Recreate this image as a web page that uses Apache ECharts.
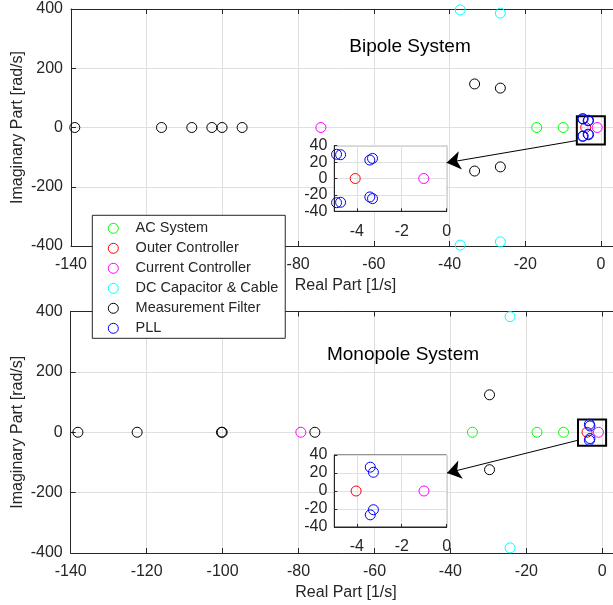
<!DOCTYPE html>
<html>
<head>
<meta charset="utf-8">
<script src="https://cdn.jsdelivr.net/npm/echarts@6/dist/echarts.min.js"></script>
<style>
  html, body { margin: 0; padding: 0; background: #fff; }
  #chart { width: 613px; height: 605px; }
</style>
</head>
<body>
<div id="chart"></div>
<script>
// Eigenvalues [real 1/s, imag rad/s], grouped by the subsystem they belong to.
const groupNames = ['AC System', 'Outer Controller', 'Current Controller',
                    'DC Capacitor & Cable', 'Measurement Filter', 'PLL'];

// Bipole system
const bipoleAC      = [[-17.0, 0], [-10.0, 0]];
const bipoleOuter   = [[-4.07, 0]];
const bipoleCurrent = [[-74.0, 0], [-1.02, 0]];
const bipoleDC      = [[-37.2, 397], [-37.2, -397], [-26.6, 386], [-26.6, -386]];
const bipoleFilter  = [[-139.0, 0], [-116.1, 0], [-108.1, 0], [-102.8, 0], [-100.1, 0], [-94.8, 0],
                       [-33.4, 147], [-33.4, -147], [-26.6, 133], [-26.6, -133]];
const bipolePLL     = [[-4.9, 29.5], [-4.9, -29.5], [-4.72, 29], [-4.72, -29],
                       [-3.42, 22.5], [-3.42, -22.5], [-3.3, 24.5], [-3.3, -24.5]];

// Monopole system
const monoAC      = [[-34.2, 0], [-17.2, 0], [-10.2, 0]];
const monoOuter   = [[-4.03, 0]];
const monoCurrent = [[-79.4, 0], [-1.01, 0]];
const monoDC      = [[-24.3, 383], [-24.3, -383]];
const monoFilter  = [[-138.1, 0], [-122.5, 0], [-100.1, 0], [-100.3, 0], [-75.7, 0],
                     [-29.7, 124], [-29.7, -124]];
const monoPLL     = [[-3.4, 26.5], [-3.4, -26.5], [-3.26, 20.8], [-3.26, -20.8]];

// Tick values
const realTicks      = [-140, -120, -100, -80, -60, -40, -20, 0];
const imagTicks      = [-400, -200, 0, 200, 400];
const zoomRealTicks  = [-4, -2, 0];
const zoomImagTicks  = [-40, -20, 0, 20, 40];

// Zoom window (data units) and the arrow pointing to the magnified view
const bipoleZoomWindow = [[-6.4, -57], [1.0, 38]];
const bipoleArrow      = [[-6.4, -44], [-40.8, -119]];
const monoZoomWindow   = [[-6.4, -45], [1.0, 42]];
const monoArrow        = [[-6.4, -26.5], [-40.9, -135]];

const groupColors = ['#00ff00', '#ff0000', '#ff00ff', '#00ffff', '#000000', '#0000ff'];
const FONT = "'Liberation Sans', Arial, Helvetica, sans-serif";
const AXIS_COLOR = '#262626';
const GRID_COLOR = '#dfdfdf';
const TICK_FONT = 16;
const ZOOM_MIN = -5;

const bipoleGroups = [bipoleAC, bipoleOuter, bipoleCurrent, bipoleDC, bipoleFilter, bipolePLL];
const monoGroups   = [monoAC, monoOuter, monoCurrent, monoDC, monoFilter, monoPLL];

function valueAxis(opts) {
  return Object.assign({
    type: 'value',
    nameMoveOverlap: false,
    axisLine: { show: true, onZero: false, lineStyle: { color: AXIS_COLOR, width: 1 } },
    axisTick: { show: true, inside: true, length: 5, lineStyle: { color: AXIS_COLOR } },
    axisLabel: { color: AXIS_COLOR, fontSize: TICK_FONT, fontFamily: FONT },
    splitLine: { show: true, lineStyle: { color: GRID_COLOR, width: 1 } },
    nameTextStyle: { color: AXIS_COLOR, fontSize: 16, fontFamily: FONT }
  }, opts);
}

function mainXAxis(gridIndex) {
  return valueAxis({
    gridIndex, min: -140, max: 5, position: 'bottom',
    axisTick: { show: true, inside: true, length: 5, customValues: realTicks, lineStyle: { color: AXIS_COLOR } },
    axisLabel: { color: AXIS_COLOR, fontSize: TICK_FONT, fontFamily: FONT, margin: 11, customValues: realTicks },
    name: 'Real Part [1/s]', nameLocation: 'middle', nameGap: 32
  });
}
function topSpine(gridIndex) {
  return valueAxis({
    gridIndex, min: -140, max: 5, position: 'top',
    axisTick: { show: true, inside: true, length: 5, customValues: realTicks, lineStyle: { color: AXIS_COLOR } },
    axisLabel: { show: false },
    splitLine: { show: false }
  });
}
function mainYAxis(gridIndex) {
  return valueAxis({
    gridIndex, min: -400, max: 400,
    axisTick: { show: true, inside: true, length: 5, customValues: imagTicks, lineStyle: { color: AXIS_COLOR } },
    axisLabel: { color: AXIS_COLOR, fontSize: TICK_FONT, fontFamily: FONT, margin: 8, customValues: imagTicks },
    name: 'Imaginary Part [rad/s]', nameLocation: 'middle', nameGap: 45
  });
}
function zoomXAxis(gridIndex) {
  return valueAxis({
    gridIndex, min: ZOOM_MIN, max: 0, z: 3,
    axisTick: { show: true, inside: true, length: 3, customValues: zoomRealTicks, lineStyle: { color: AXIS_COLOR } },
    axisLabel: { color: AXIS_COLOR, fontSize: TICK_FONT, fontFamily: FONT, margin: 12, customValues: zoomRealTicks }
  });
}
function zoomYAxis(gridIndex) {
  return valueAxis({
    gridIndex, min: -40, max: 40, z: 3,
    axisTick: { show: true, inside: true, length: 3, customValues: zoomImagTicks, lineStyle: { color: AXIS_COLOR } },
    axisLabel: { color: AXIS_COLOR, fontSize: TICK_FONT, fontFamily: FONT, margin: 7, customValues: zoomImagTicks }
  });
}

function scatter(name, color, data, xi, yi, z) {
  return {
    type: 'scatter', name, data, xAxisIndex: xi, yAxisIndex: yi,
    symbol: 'circle', symbolSize: 10, z,
    itemStyle: { color: 'rgba(0,0,0,0)', borderColor: color, borderWidth: 1, opacity: 1 },
    emphasis: { disabled: true }, silent: true, animation: false
  };
}

function annotations(win, arrow, xi, yi) {
  return {
    type: 'scatter', name: '_annot', data: [], xAxisIndex: xi, yAxisIndex: yi, z: 5,
    silent: true, animation: false,
    markArea: {
      silent: true,
      itemStyle: { color: 'rgba(0,0,0,0)', borderColor: '#000', borderWidth: 2 },
      label: { show: false },
      data: [[{ coord: win[0] }, { coord: win[1] }]]
    },
    markLine: {
      silent: true, symbol: ['none', 'arrow'], symbolSize: 14,
      lineStyle: { color: '#000', width: 1, type: 'solid' },
      itemStyle: { color: '#000' },
      label: { show: false },
      data: [[{ coord: arrow[0] }, { coord: arrow[1] }]]
    }
  };
}

const series = [];
// main axes: grid 0 (xAxis 0, yAxis 0), grid 1 (xAxis 2, yAxis 1); magnified views: grid 2/3
bipoleGroups.forEach((g, i) => series.push(scatter(groupNames[i], groupColors[i], g, 0, 0, 2)));
monoGroups.forEach((g, i) => series.push(scatter(groupNames[i], groupColors[i], g, 2, 1, 2)));
bipoleGroups.forEach((g, i) => series.push(scatter(groupNames[i], groupColors[i],
  g.filter(p => p[0] >= ZOOM_MIN && Math.abs(p[1]) <= 40), 4, 2, 4)));
monoGroups.forEach((g, i) => series.push(scatter(groupNames[i], groupColors[i],
  g.filter(p => p[0] >= ZOOM_MIN && Math.abs(p[1]) <= 40), 5, 3, 4)));
series.push(annotations(bipoleZoomWindow, bipoleArrow, 0, 0));
series.push(annotations(monoZoomWindow, monoArrow, 2, 1));

const chart = echarts.init(document.getElementById('chart'), null, { renderer: 'canvas' });
chart.setOption({
  animation: false,
  backgroundColor: '#fff',
  grid: [
    { left: 71, top: 9, width: 549, height: 237, outerBoundsMode: 'none', containLabel: false },
    { left: 70.7, top: 311.5, width: 550.6, height: 241.5, outerBoundsMode: 'none', containLabel: false },
    { left: 334.3, top: 145.7, width: 112.4, height: 65.6, show: true, z: 1,
      outerBoundsMode: 'none', containLabel: false,
      backgroundColor: '#fff', borderColor: AXIS_COLOR, borderWidth: 1 },
    { left: 334.3, top: 455, width: 112.4, height: 72, show: true, z: 1,
      outerBoundsMode: 'none', containLabel: false,
      backgroundColor: '#fff', borderColor: AXIS_COLOR, borderWidth: 1 }
  ],
  xAxis: [mainXAxis(0), topSpine(0), mainXAxis(1), topSpine(1), zoomXAxis(2), zoomXAxis(3)],
  yAxis: [mainYAxis(0), mainYAxis(1), zoomYAxis(2), zoomYAxis(3)],
  legend: {
    orient: 'vertical', left: 92.3, top: 215.3,
    padding: [3, 7, 0, 15.5], itemGap: 0, itemWidth: 34.6, itemHeight: 10,
    data: groupNames, selectedMode: false,
    itemStyle: { borderWidth: 1 },
    textStyle: { fontSize: 14.5, lineHeight: 20, color: AXIS_COLOR, fontFamily: FONT },
    backgroundColor: '#fff', borderColor: AXIS_COLOR, borderWidth: 1, borderRadius: 0, z: 10
  },
  graphic: [
    { type: 'text', x: 410, y: 46.7, z: 6, silent: true,
      style: { text: 'Bipole System', textAlign: 'center', textVerticalAlign: 'middle',
               fontSize: 19, fontFamily: FONT, fill: '#000' } },
    { type: 'text', x: 403, y: 355, z: 6, silent: true,
      style: { text: 'Monopole System', textAlign: 'center', textVerticalAlign: 'middle',
               fontSize: 19, fontFamily: FONT, fill: '#000' } }
  ],
  series
});
</script>
</body>
</html>
